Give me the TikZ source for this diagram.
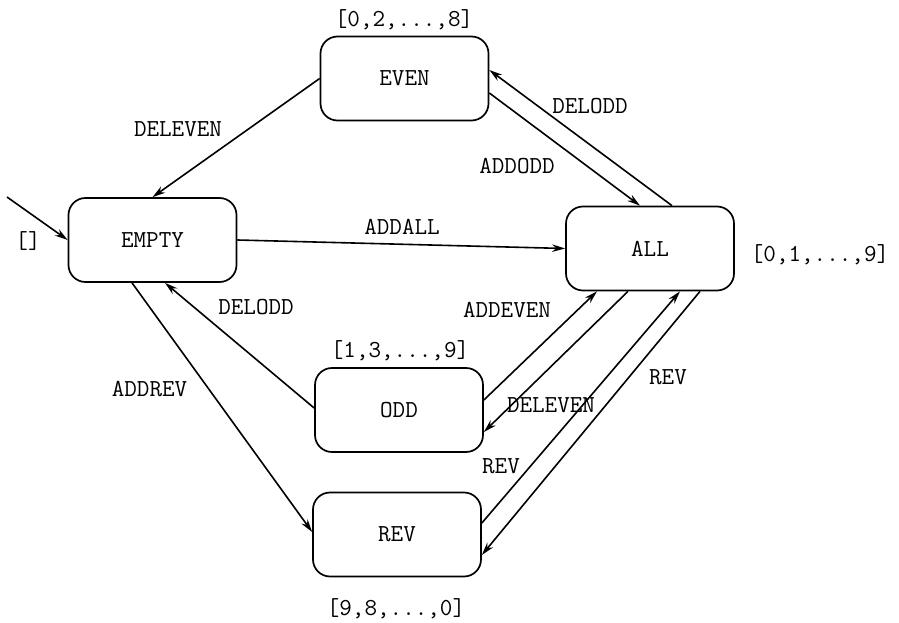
\documentclass[tikz,border=0pt]{standalone}
\usetikzlibrary{arrows.meta}
\begin{document}
\begin{tikzpicture}[x=1bp,y=-1bp,
  txt/.style={font=\ttfamily\fontsize{24.5}{28}\selectfont},
  statebox/.style={txt, draw, line width=1.7bp, rounded corners=17bp, minimum width=168bp, minimum height=84bp, inner sep=0pt},
  lbl/.style={txt, inner sep=0pt},
  tr/.style={line width=1.6bp, -{Stealth[length=13bp,width=7.5bp]}}]
\useasboundingbox (0,0) rectangle (899,623);
% states
\node[statebox] (empty) at (152.5,240) {EMPTY};
\node[statebox] (even) at (404.5,78.5) {EVEN};
\node[statebox] (all) at (650,248.5) {ALL};
\node[statebox] (odd) at (399,410) {ODD};
\node[statebox] (rev) at (397,534.5) {REV};
% state values
\node[lbl] (vempty) at (28,241) {[]};
\node[lbl] (veven) at (404,20) {[0,2,...,8]};
\node[lbl] (vall) at (820,255) {[0,1,...,9]};
\node[lbl] (vodd) at (400,351) {[1,3,...,9]};
\node[lbl] (vrev) at (396,609) {[9,8,...,0]};
% initial
\coordinate (init) at (7,197);
\draw[tr] (init) -- (empty.west);
% transitions
\draw[tr] (even.west) -- (empty.north);
\draw[tr] (empty.east) -- (all.west);
\draw[tr] ([yshift=-14.5bp]even.east) -- ([xshift=-10bp]all.north);
\draw[tr] ([xshift=22bp]all.north) -- ([yshift=8.5bp]even.east);
\draw[tr] ([yshift=2bp]odd.west) -- ([xshift=12.5bp]empty.south);
\draw[tr] ([xshift=-20.5bp]empty.south) -- ([yshift=2.5bp]rev.west);
\draw[tr] ([yshift=10bp]odd.east) -- ([xshift=-53bp]all.south);
\draw[tr] ([xshift=-22bp]all.south) -- ([yshift=-22bp]odd.east);
\draw[tr] ([yshift=11.5bp]rev.east) -- ([xshift=30bp]all.south);
\draw[tr] ([xshift=50bp]all.south) -- ([yshift=-20.5bp]rev.east);
% transition labels
\node[lbl] (l1) at (178,129.5) {DELEVEN};
\node[lbl] (l2) at (402,227) {ADDALL};
\node[lbl] (l3) at (517,166) {ADDODD};
\node[lbl] (l4) at (590,106.5) {DELODD};
\node[lbl] (l5) at (256,307) {DELODD};
\node[lbl] (l6) at (149.5,389) {ADDREV};
\node[lbl] (l7) at (507,310) {ADDEVEN};
\node[lbl] (l8) at (551,405) {DELEVEN};
\node[lbl] (l9) at (668,377) {REV};
\node[lbl] (l10) at (501,466) {REV};
\end{tikzpicture}
\end{document}
